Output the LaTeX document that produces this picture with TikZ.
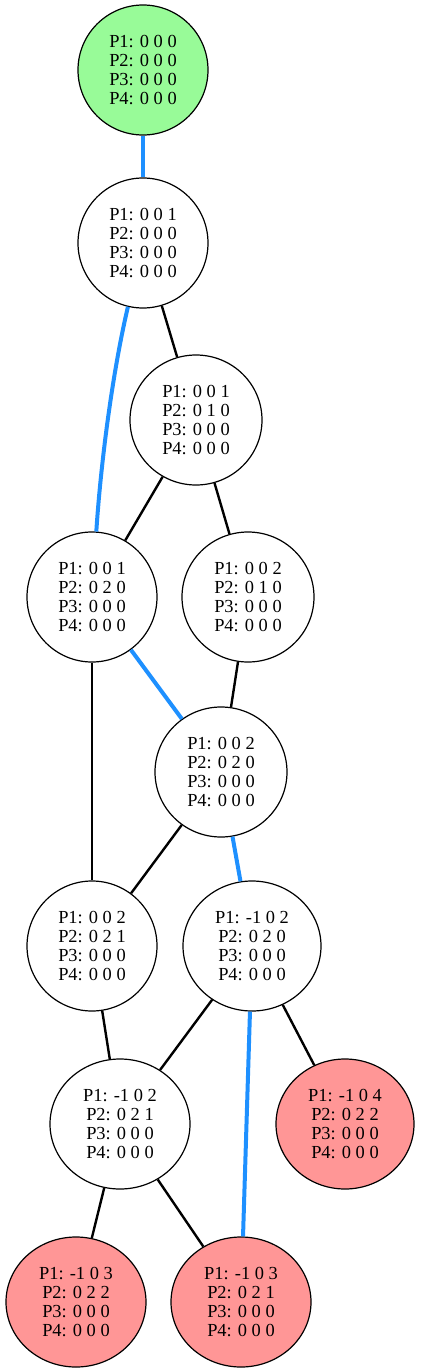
\documentclass[tikz,border=0pt]{standalone}
\usepackage{fontspec}
\setmainfont{Liberation Serif}
\usetikzlibrary{shapes.geometric}
\definecolor{gnode}{HTML}{98FB98}
\definecolor{rnode}{HTML}{FF9696}
\definecolor{bedge}{HTML}{1E90FF}
\begin{document}
\begin{tikzpicture}[x=1pt,y=-1pt,
  st/.style={ellipse,draw=black,line width=1.2pt,inner sep=0pt,align=center,
    minimum width=#1,minimum height=130pt,font=\fontsize{18.4}{19.3}\selectfont},
  st/.default=130pt,
  blk/.style={draw=black,line width=2.4pt},
  blu/.style={draw=bedge,line width=4pt}]
\useasboundingbox (0,0) rectangle (421,1372);
\node[st,fill=gnode] (n1) at (143,70) {P1: 0 0 0\\P2: 0 0 0\\P3: 0 0 0\\P4: 0 0 0};
\node[st] (n2) at (143,243) {P1: 0 0 1\\P2: 0 0 0\\P3: 0 0 0\\P4: 0 0 0};
\node[st=132pt] (n3) at (196,420) {P1: 0 0 1\\P2: 0 1 0\\P3: 0 0 0\\P4: 0 0 0};
\node[st] (n4) at (92,597) {P1: 0 0 1\\P2: 0 2 0\\P3: 0 0 0\\P4: 0 0 0};
\node[st=132pt] (n5) at (248,597) {P1: 0 0 2\\P2: 0 1 0\\P3: 0 0 0\\P4: 0 0 0};
\node[st=132pt] (n6) at (221,772) {P1: 0 0 2\\P2: 0 2 0\\P3: 0 0 0\\P4: 0 0 0};
\node[st] (n7) at (92,946) {P1: 0 0 2\\P2: 0 2 1\\P3: 0 0 0\\P4: 0 0 0};
\node[st=138pt] (n8) at (252,946) {P1: -1 0 2\\P2: 0 2 0\\P3: 0 0 0\\P4: 0 0 0};
\node[st=140pt] (n9) at (120,1124) {P1: -1 0 2\\P2: 0 2 1\\P3: 0 0 0\\P4: 0 0 0};
\node[st=138pt,fill=rnode] (n10) at (345,1124) {P1: -1 0 4\\P2: 0 2 2\\P3: 0 0 0\\P4: 0 0 0};
\node[st=140pt,fill=rnode] (n11) at (76,1302) {P1: -1 0 3\\P2: 0 2 2\\P3: 0 0 0\\P4: 0 0 0};
\node[st=140pt,fill=rnode] (n12) at (241,1302) {P1: -1 0 3\\P2: 0 2 1\\P3: 0 0 0\\P4: 0 0 0};
\draw[blu] (n1) -- (n2);
\draw[blu] (n2) .. controls (113,370) and (101,460) .. (n4);
\draw[blk] (n2) -- (n3);
\draw[blk] (n3) -- (n4);
\draw[blk] (n3) -- (n5);
\draw[blu] (n4) -- (n6);
\draw[blk] (n5) -- (n6);
\draw[blk] (n4) -- (n7);
\draw[blk] (n6) -- (n7);
\draw[blu] (n6) -- (n8);
\draw[blk] (n7) -- (n9);
\draw[blk] (n8) -- (n9);
\draw[blu] (n8) -- (n12);
\draw[blk] (n8) -- (n10);
\draw[blk] (n9) -- (n11);
\draw[blk] (n9) -- (n12);
\end{tikzpicture}
\end{document}
